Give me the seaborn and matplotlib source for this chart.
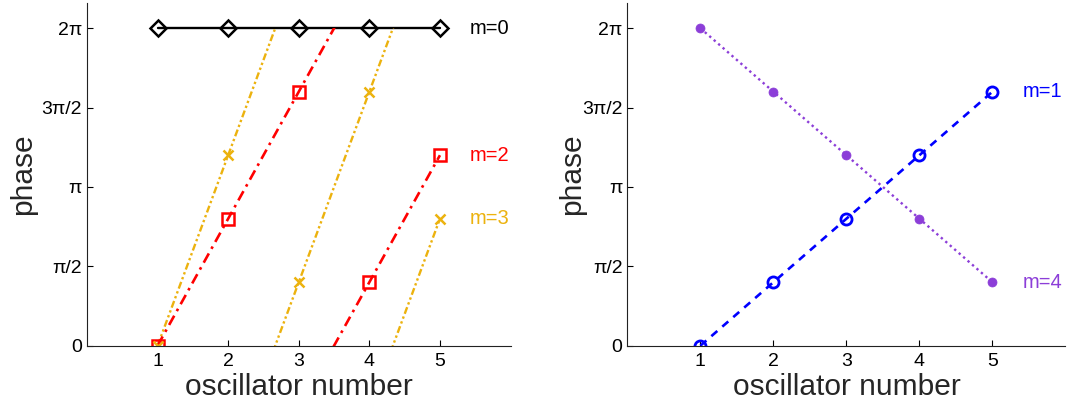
import numpy as np
import matplotlib
matplotlib.use("Agg")
import matplotlib.pyplot as plt
from matplotlib.patches import Rectangle
import seaborn as sns

sns.set_style("ticks")
plt.rcParams["font.family"] = ["Liberation Sans", "DejaVu Sans"]

# oscillator index and phases (in units of pi) for each normal mode
oscillators = [1, 2, 3, 4, 5]
phase_m0 = [2.0, 2.0, 2.0, 2.0, 2.0]
phase_m2 = [0.0, 0.8, 1.6, 0.4, 1.2]
phase_m3 = [0.0, 1.2, 0.4, 1.6, 0.8]
phase_m1 = [0.0, 0.4, 0.8, 1.2, 1.6]
phase_m4 = [2.0, 1.6, 1.2, 0.8, 0.4]

ytick_vals = [0.0, 0.5, 1.0, 1.5, 2.0]
ytick_labels = ["0", "π/2", "π", "3π/2", "2π"]
xtick_vals = [1, 2, 3, 4, 5]

BLACK = "#000000"
RED = "#ff0000"
YELLOW = "#ecb20e"
BLUE = "#0000ff"
PURPLE = "#8c3ed8"

fig = plt.figure(figsize=(10.67, 4.08), dpi=100)
ax_l = fig.add_axes([0.0815, 0.1527, 0.397, 0.840])
ax_r = fig.add_axes([0.588, 0.1527, 0.4105, 0.840])

YTOP = 2 * np.pi + 0.5


def unwrap_up(phases):
    """Turn wrapped phases into a rising line by adding 2*pi at each drop."""
    p = np.asarray(phases, dtype=float) * np.pi
    out = [p[0]]
    offset = 0.0
    for a, b in zip(p[:-1], p[1:]):
        if b < a:
            offset += 2 * np.pi
        out.append(b + offset)
    return np.array(out)


def draw_line(ax, phases, color, ls, lw, wrap):
    x = np.asarray(oscillators, dtype=float)
    if wrap:
        y = unwrap_up(phases)
        n_wraps = int(np.ceil(y.max() / (2 * np.pi))) + 1
        clip = Rectangle((0, 0), 6, 2 * np.pi, transform=ax.transData,
                         facecolor="none", edgecolor="none")
        for k in range(n_wraps):
            before = len(ax.lines)
            sns.lineplot(x=x, y=y - 2 * np.pi * k, ax=ax, color=color,
                         linestyle=ls, linewidth=lw, sort=False,
                         estimator=None)
            for ln in ax.lines[before:]:
                ln.set_clip_path(clip)
    else:
        sns.lineplot(x=x, y=np.asarray(phases) * np.pi, ax=ax, color=color,
                     linestyle=ls, linewidth=lw, sort=False, estimator=None)


def draw_markers(ax, phases, color, marker, ms, filled=False, mew=1.6):
    sns.lineplot(x=oscillators, y=np.asarray(phases) * np.pi, ax=ax,
                 linestyle="none", marker=marker, markersize=ms,
                 markerfacecolor=color if filled else "none",
                 markeredgecolor=color, markeredgewidth=mew, color=color,
                 sort=False, estimator=None)


# left panel: modes m=0, 2, 3
draw_line(ax_l, phase_m0, BLACK, "-", 1.7, False)
draw_line(ax_l, phase_m3, YELLOW, (0, (3, 1.2, 1, 1.2, 1, 1.2)), 1.7, True)
draw_line(ax_l, phase_m2, RED, (0, (4, 2, 1, 2)), 1.9, True)
draw_markers(ax_l, phase_m0, BLACK, "D", 8.5, mew=1.8)
draw_markers(ax_l, phase_m2, RED, "s", 8, mew=1.8)
draw_markers(ax_l, phase_m3, YELLOW, "x", 7, mew=1.8)

# right panel: modes m=1, 4
draw_line(ax_r, phase_m4, PURPLE, (0, (1, 1.5)), 1.7, False)
draw_line(ax_r, phase_m1, BLUE, (0, (3, 2.5)), 1.9, False)
draw_markers(ax_r, phase_m4, PURPLE, "o", 6.5, filled=True, mew=0.5)
draw_markers(ax_r, phase_m1, BLUE, "o", 8, mew=2)

labels_l = [("m=0", phase_m0[-1], BLACK), ("m=2", phase_m2[-1], RED),
            ("m=3", phase_m3[-1], YELLOW)]
labels_r = [("m=1", phase_m1[-1], BLUE), ("m=4", phase_m4[-1], PURPLE)]
for ax, labels in ((ax_l, labels_l), (ax_r, labels_r)):
    for txt, yv, col in labels:
        ax.text(5.42, yv * np.pi, txt, color=col, fontsize=14.5,
                ha="left", va="center")

for ax, ypad in ((ax_l, 3), (ax_r, -3)):
    ax.set_xlim(0, 6)
    ax.set_ylim(0, YTOP)
    ax.set_xticks(xtick_vals)
    ax.set_xticklabels([str(v) for v in xtick_vals])
    ax.set_yticks(np.array(ytick_vals) * np.pi)
    ax.set_yticklabels(ytick_labels)
    ax.tick_params(direction="in", length=4, width=0.8, labelsize=14,
                   colors="black")
    ax.tick_params(axis="x", pad=5.5)
    ax.tick_params(axis="y", pad=3.5)
    ax.set_xlabel("oscillator number", fontsize=21.5, labelpad=2)
    ax.set_ylabel("phase", fontsize=21.5, labelpad=ypad)
    for s in ("left", "bottom"):
        ax.spines[s].set_linewidth(0.8)
        ax.spines[s].set_color("#222222")
    sns.despine(ax=ax)

fig.savefig("out.png", dpi=100)
